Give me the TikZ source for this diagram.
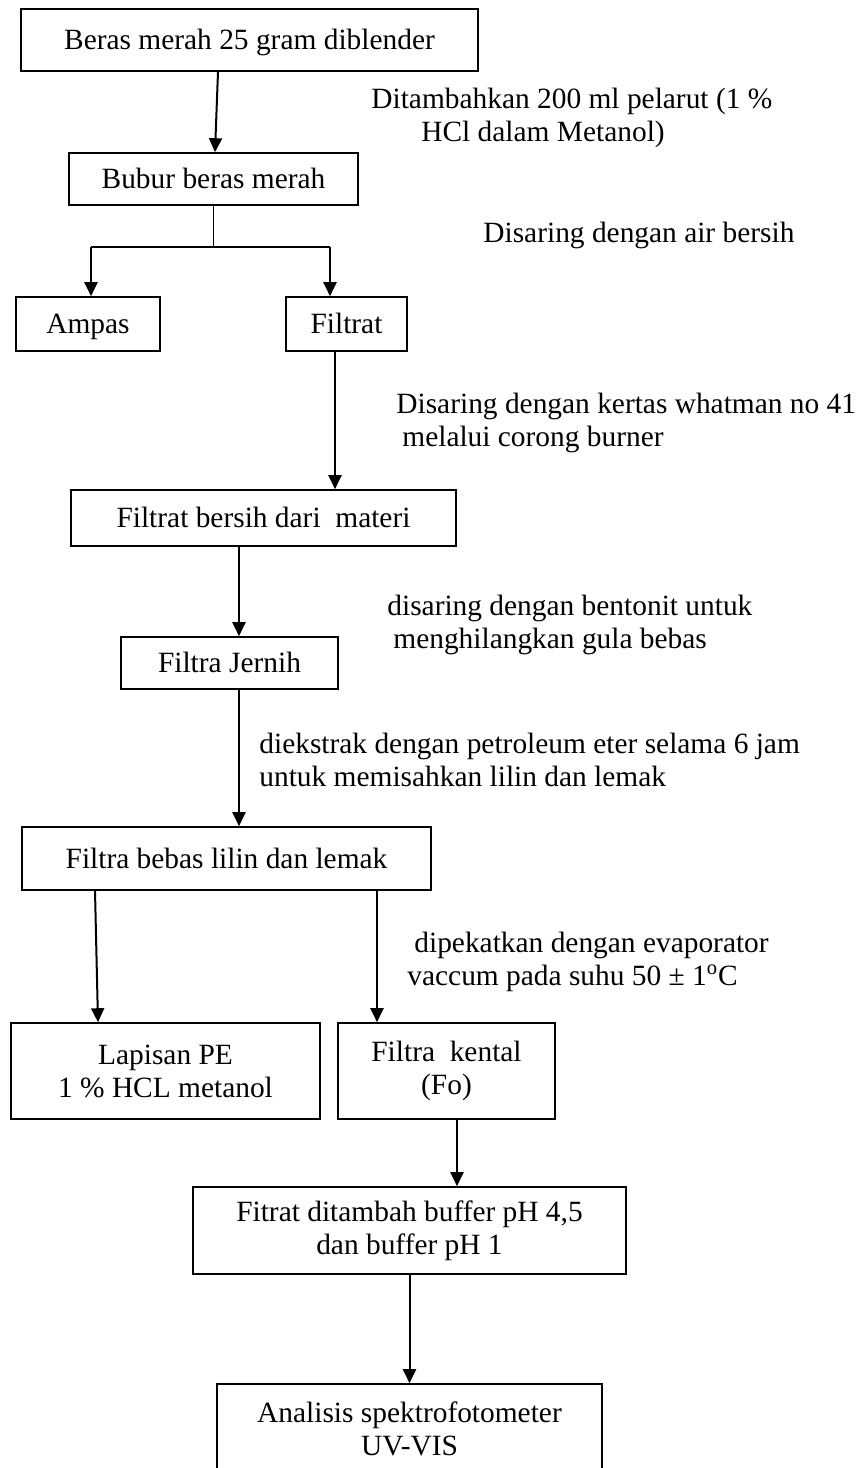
\documentclass[tikz,border=0pt]{standalone}
\usepackage{fontspec}
\setmainfont{Liberation Serif}
\usetikzlibrary{arrows.meta}

\begin{document}
\begin{tikzpicture}[x=0.5pt,y=-0.5pt,
            every node/.style={inner sep=0pt, font=\fontsize{14.7}{16.5}\selectfont},
            box/.style={draw, line width=0.8pt, align=center},
            onebox/.style={box, text height=9.7pt, text depth=0pt},
            lbl/.style={anchor=west, align=left},
            arr/.style={line width=1pt, -{Triangle[length=7pt,width=6.5pt]}}]
            \useasboundingbox (0,0) rectangle (858,1468);
            \node[onebox, minimum width=228.5pt, minimum height=31pt] (beras) at (249.5,40) {Beras merah 25 gram diblender};
            \node[onebox, minimum width=144.5pt, minimum height=26pt] (bubur) at (213.5,179) {Bubur beras merah};
            \node[onebox, minimum width=72pt, minimum height=27pt] (ampas) at (88,324) {Ampas};
            \node[onebox, minimum width=60.5pt, minimum height=27pt] (filtrat) at (346.5,324) {Filtrat};
            \node[onebox, minimum width=192.5pt, minimum height=28pt] (bersih) at (263.5,518) {Filtrat bersih dari\ \ materi};
            \node[onebox, minimum width=108.5pt, minimum height=26pt] (jernih) at (229.5,663) {Filtra Jernih};
            \node[onebox, minimum width=204.5pt, minimum height=31.5pt] (bebas) at (226.5,858.5) {Filtra bebas lilin dan lemak};
            \node[box, minimum width=154.5pt, minimum height=48pt] (lapisan) at (165.5,1071) {Lapisan PE\\1 \% HCL metanol};
            \node[box, minimum width=108.5pt, minimum height=48pt] (kental) at (446.5,1071) {Filtra\ \ kental\\(Fo)};
            \node[box, minimum width=216.5pt, minimum height=43.5pt] (buffer) at (409.5,1230.5) {Fitrat ditambah buffer pH 4,5\\dan buffer pH 1};
            \node[box, minimum width=192.5pt, minimum height=45pt] (analisis) at (409.5,1429) {Analisis spektrofotometer\\UV-VIS};
            \node[lbl] (ltambah) at (371,117.5) {Ditambahkan 200 ml pelarut (1 \%\\\hspace*{25pt}HCl dalam Metanol)};
            \node[lbl] (lair) at (483,235) {Disaring dengan air bersih};
            \node[lbl] (lwhatman) at (396,422.5) {Disaring dengan kertas whatman no 41\\\hspace*{3pt}melalui corong burner};
            \node[lbl] (lbentonit) at (387,625) {disaring dengan bentonit untuk\\\hspace*{3pt}menghilangkan gula bebas};
            \node[lbl] (leter) at (259,760) {diekstrak dengan petroleum eter selama 6 jam\\untuk memisahkan lilin dan lemak};
            \node[lbl] (lvakum) at (407,961.5) {\hspace*{3.5pt}dipekatkan dengan evaporator\\vaccum pada suhu 50 ± 1\textsuperscript{o}C};
            \coordinate (cabkiri) at (91,247);
            \coordinate (cabkanan) at (330,247);
            \draw[arr] ([xshift=-15.75pt]beras.south) -- ([xshift=0.75pt]bubur.north);
            \draw[line width=0.8pt] (bubur.south) -- (bubur.south |- cabkiri);
            \draw[line width=1pt] (cabkiri) -- (cabkanan);
            \draw[arr] (cabkiri) -- (cabkiri |- ampas.north);
            \draw[arr] (cabkanan) -- (cabkanan |- filtrat.north);
            \draw[arr] ([xshift=-5.75pt]filtrat.south) -- ([xshift=35.75pt]bersih.north);
            \draw[arr] ([xshift=-12.25pt]bersih.south) -- ([xshift=4.75pt]jernih.north);
            \draw[arr] ([xshift=4.75pt]jernih.south) -- ([xshift=6.25pt]bebas.north);
            \draw[arr] ([xshift=-65.75pt]bebas.south) -- ([xshift=-33.75pt]lapisan.north);
            \draw[arr] ([xshift=75.25pt]bebas.south) -- ([xshift=-34.75pt]kental.north);
            \draw[arr] ([xshift=5.25pt]kental.south) -- ([xshift=23.75pt]buffer.north);
            \draw[arr] (buffer.south) -- (analisis.north);
        \end{tikzpicture}
\end{document}
